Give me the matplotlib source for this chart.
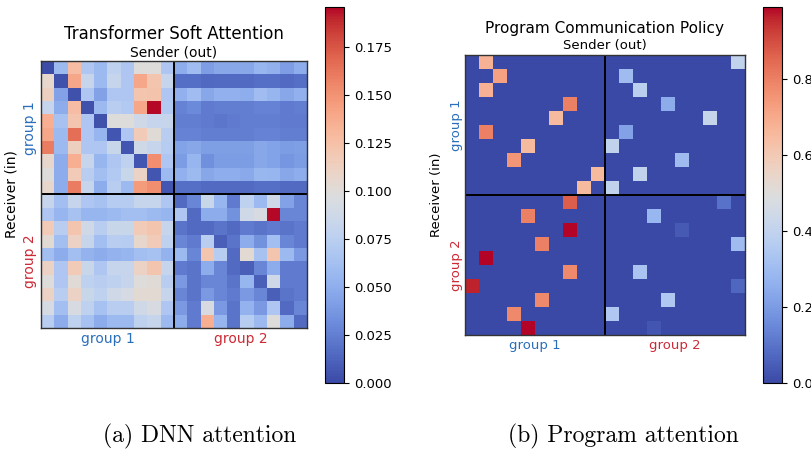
import matplotlib
matplotlib.use("Agg")
import matplotlib.pyplot as plt
from matplotlib.colors import ListedColormap
import numpy as np

## Données

# attention du transformer (x1e-3), lignes = receveur, colonnes = émetteur
dnn_group1_rows = [
    [2, 58, 127, 68, 58, 78, 68, 98, 98, 68, 50, 60, 41, 46, 46, 46, 55, 52, 41, 50],
    [107, 4, 140, 82, 58, 82, 68, 140, 121, 82, 18, 18, 15, 16, 16, 16, 18, 18, 16, 18],
    [113, 43, 4, 68, 43, 68, 68, 121, 123, 68, 52, 60, 46, 52, 52, 50, 60, 55, 46, 52],
    [82, 49, 127, 4, 58, 74, 70, 140, 195, 70, 27, 31, 23, 25, 25, 25, 27, 27, 23, 25],
    [136, 64, 121, 68, 4, 98, 98, 88, 82, 82, 25, 25, 23, 21, 23, 25, 25, 25, 23, 23],
    [140, 58, 166, 68, 55, 6, 68, 117, 101, 74, 27, 27, 25, 25, 25, 25, 27, 27, 25, 25],
    [160, 58, 113, 68, 68, 84, 6, 88, 82, 72, 44, 46, 42, 42, 42, 42, 46, 44, 40, 42],
    [107, 49, 136, 82, 55, 68, 78, 6, 152, 68, 40, 55, 33, 40, 40, 40, 46, 44, 37, 40],
    [98, 49, 117, 74, 62, 70, 84, 111, 6, 58, 52, 58, 46, 50, 50, 48, 56, 55, 46, 50],
    [107, 49, 160, 82, 49, 74, 58, 146, 152, 6, 18, 18, 16, 16, 16, 16, 18, 18, 16, 16],
]
dnn_group2_rows = [
    [82, 62, 82, 68, 64, 72, 72, 82, 82, 68, 16, 29, 84, 55, 23, 78, 58, 88, 43, 29],
    [68, 55, 64, 55, 55, 58, 62, 62, 58, 55, 68, 16, 49, 49, 35, 88, 94, 195, 29, 29],
    [117, 74, 121, 88, 74, 84, 84, 117, 121, 82, 20, 16, 16, 20, 16, 23, 20, 23, 20, 23],
    [103, 62, 111, 82, 62, 74, 72, 107, 117, 78, 29, 23, 74, 10, 20, 49, 35, 62, 29, 23],
    [62, 49, 62, 53, 49, 53, 55, 62, 64, 53, 58, 29, 121, 72, 16, 103, 64, 121, 58, 39],
    [111, 68, 117, 84, 68, 82, 82, 111, 121, 82, 23, 20, 49, 29, 16, 10, 29, 49, 23, 23],
    [98, 68, 101, 78, 74, 78, 82, 98, 101, 74, 39, 20, 29, 29, 20, 55, 10, 88, 23, 23],
    [111, 74, 111, 84, 78, 88, 92, 103, 103, 82, 29, 20, 39, 29, 23, 39, 29, 10, 20, 23],
    [92, 62, 94, 78, 64, 74, 74, 88, 94, 68, 39, 23, 94, 39, 20, 53, 39, 68, 16, 29],
    [74, 49, 78, 64, 49, 58, 58, 78, 82, 58, 49, 23, 136, 55, 20, 72, 58, 98, 49, 16],
]

# politique de communication du programme : entrées non nulles
prog_receveur = [0, 0, 1, 1, 2, 2, 3, 3, 4, 4, 5, 5, 6, 6, 7, 7, 8, 8, 9, 9,
                 10, 10, 11, 11, 12, 12, 13, 13, 14, 15, 15, 16, 16, 17, 17, 18, 18, 19, 19]
prog_emetteur = [1, 19, 2, 11, 1, 12, 7, 14, 6, 17, 1, 11, 4, 10, 3, 15, 9, 12, 8, 10,
                 7, 18, 4, 13, 7, 15, 5, 19, 1, 7, 12, 0, 19, 5, 14, 3, 10, 4, 13]
prog_poids = [0.68, 0.40, 0.72, 0.30, 0.68, 0.38, 0.80, 0.25, 0.65, 0.42,
              0.80, 0.22, 0.65, 0.40, 0.75, 0.30, 0.65, 0.40, 0.65, 0.40,
              0.87, 0.10, 0.80, 0.28, 0.99, 0.04, 0.80, 0.30, 0.99, 0.78, 0.33,
              0.96, 0.07, 0.78, 0.35, 0.78, 0.35, 0.99, 0.03]

nbAgents = 20
taille_groupe = 10

ticks_dnn = [0.0, 0.025, 0.05, 0.075, 0.1, 0.125, 0.15, 0.175]
ticks_prog = [0.0, 0.2, 0.4, 0.6, 0.8]

bleu_g1 = "#2a6ebb"
rouge_g2 = "#cc2a36"

## Matrices

attDNN = np.array(dnn_group1_rows + dnn_group2_rows) / 1000.0
attProg = np.zeros((nbAgents, nbAgents))
for r, e, p in zip(prog_receveur, prog_emetteur, prog_poids):
    attProg[r, e] = p

# coolwarm un peu assombri côté bleu (rendu de la figure d'origine)
t = np.linspace(0, 1, 256)
couleurs = plt.get_cmap("coolwarm")(t)
attenuation = 1 - 0.14 * np.clip(1 - 2 * t, 0, 1)
couleurs[:, 2] *= attenuation
couleurs[:, 1] *= 1 - 0.04 * np.clip(1 - 2 * t, 0, 1)
cmapFig = ListedColormap(couleurs)

## Figure

W, H = 812, 453
fig = plt.figure(figsize=(W / 100, H / 100), dpi=100)


def boite(x0, y0, x1, y1):
    # coordonnées pixels (origine en haut à gauche) -> fraction de figure
    return [x0 / W, 1 - y1 / H, (x1 - x0) / W, (y1 - y0) / H]


def panneau(mat, vmax, ticks, fmt, rect_ax, rect_cb, titre, taille_titre, y_titre,
            y_sender, taille_txt, x_recv, x_grp, y_grp_bas):
    ax = fig.add_axes(boite(*rect_ax))
    im = ax.imshow(mat, cmap=cmapFig, vmin=0, vmax=vmax, aspect="auto",
                   interpolation="nearest")
    ax.axhline(taille_groupe - 0.5, color="k", lw=1.4)
    ax.axvline(taille_groupe - 0.5, color="k", lw=1.4)
    ax.set_xticks([])
    ax.set_yticks([])
    for s in ax.spines.values():
        s.set_color("#333333")
        s.set_linewidth(1.0)

    x0, y0, x1, y1 = rect_ax
    xm = (x0 + x1) / 2
    ym = (y0 + y1) / 2
    fig.text(xm / W, 1 - y_titre / H, titre, ha="center", va="center", fontsize=taille_titre)
    fig.text(xm / W, 1 - y_sender / H, "Sender (out)", ha="center", va="center",
             fontsize=taille_txt)
    fig.text(x_recv / W, 1 - ym / H, "Receiver (in)", ha="center", va="center",
             rotation=90, fontsize=taille_txt)
    q1 = y0 + (y1 - y0) / 4
    q3 = y0 + 3 * (y1 - y0) / 4
    fig.text(x_grp / W, 1 - q1 / H, "group 1", ha="center", va="center",
             rotation=90, fontsize=taille_txt, color=bleu_g1)
    fig.text(x_grp / W, 1 - q3 / H, "group 2", ha="center", va="center",
             rotation=90, fontsize=taille_txt, color=rouge_g2)
    c1 = x0 + (x1 - x0) / 4
    c3 = x0 + 3 * (x1 - x0) / 4
    fig.text(c1 / W, 1 - y_grp_bas / H, "group 1", ha="center", va="center",
             fontsize=taille_txt, color=bleu_g1)
    fig.text(c3 / W, 1 - y_grp_bas / H, "group 2", ha="center", va="center",
             fontsize=taille_txt, color=rouge_g2)

    cax = fig.add_axes(boite(*rect_cb))
    cb = fig.colorbar(im, cax=cax, ticks=ticks)
    cb.ax.set_yticklabels([fmt.format(v) for v in ticks])
    cb.ax.tick_params(labelsize=9.5)
    return ax


panneau(attDNN, 0.196, ticks_dnn, "{:.3f}", (41, 61, 307, 328), (325, 7, 344, 383),
        "Transformer Soft Attention", 12, 34, 52, 10, 12, 30, 339)
panneau(attProg, 0.99, ticks_prog, "{:.1f}", (465, 55, 745, 335), (763, 7, 782, 383),
        "Program Communication Policy", 11, 28, 45, 9.5, 437, 457, 346)

# légendes façon LaTeX
fig.text(200 / W, 1 - 436 / H, "(a) DNN attention", ha="center", va="center",
         fontsize=17, family="cmr10")
fig.text(623 / W, 1 - 436 / H, "(b) Program attention", ha="center", va="center",
         fontsize=17, family="cmr10")

fig.savefig("out.png", dpi=100)
